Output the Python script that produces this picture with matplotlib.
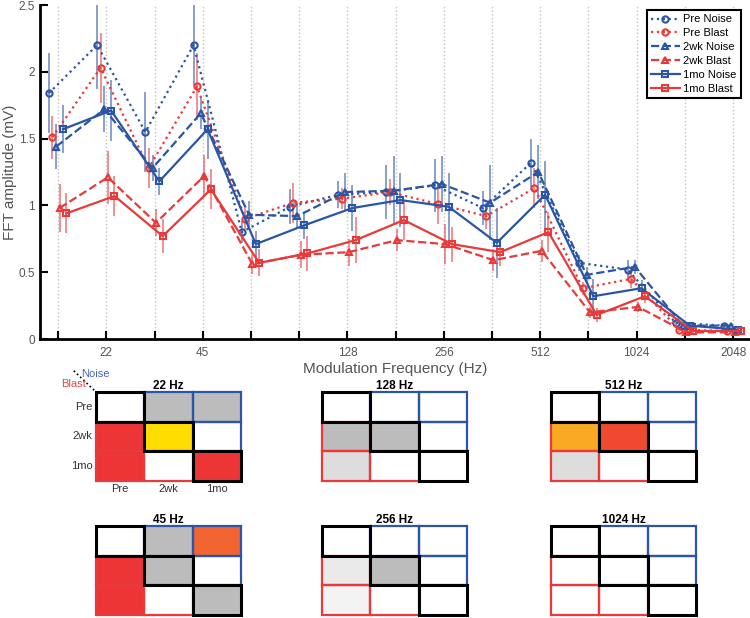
import numpy as np
import matplotlib
matplotlib.use('Agg')
import matplotlib.pyplot as plt
from matplotlib.patches import Rectangle
from matplotlib.lines import Line2D

plt.rcParams['font.family'] = ['Liberation Sans', 'DejaVu Sans']

# modulation frequencies (half-octave steps), only some are labelled
freqs = [16, 22, 32, 45, 64, 90, 128, 181, 256, 362, 512, 724, 1024, 1448, 2048]
freq_labels = ['', '22', '', '45', '', '', '128', '', '256', '', '512', '', '1024', '', '2048']

# FFT amplitude (mV), mean and error
pre_noise = [1.84, 2.20, 1.55, 2.20, 0.80, 0.99, 1.08, 1.10, 1.15, 0.98, 1.32, 0.57, 0.52, 0.12, 0.10]
pre_blast = [1.51, 2.03, 1.28, 1.89, 0.90, 1.02, 1.05, 1.10, 1.01, 0.92, 1.13, 0.38, 0.45, 0.07, 0.06]
wk2_noise = [1.44, 1.72, 1.28, 1.69, 0.93, 0.92, 1.10, 1.11, 1.16, 1.02, 1.25, 0.48, 0.54, 0.10, 0.10]
wk2_blast = [0.98, 1.21, 0.87, 1.22, 0.56, 0.63, 0.65, 0.74, 0.71, 0.59, 0.66, 0.20, 0.24, 0.05, 0.05]
mo1_noise = [1.57, 1.71, 1.18, 1.57, 0.71, 0.85, 0.98, 1.04, 0.99, 0.72, 1.08, 0.32, 0.38, 0.10, 0.07]
mo1_blast = [0.94, 1.07, 0.77, 1.12, 0.57, 0.64, 0.74, 0.89, 0.71, 0.65, 0.80, 0.18, 0.32, 0.06, 0.06]

pre_noise_err = [0.30, 0.33, 0.30, 0.30, 0.08, 0.13, 0.10, 0.20, 0.20, 0.13, 0.18, 0.06, 0.07, 0.03, 0.02]
pre_blast_err = [0.16, 0.26, 0.15, 0.25, 0.08, 0.15, 0.08, 0.10, 0.15, 0.10, 0.15, 0.05, 0.07, 0.02, 0.02]
wk2_noise_err = [0.17, 0.17, 0.10, 0.12, 0.10, 0.10, 0.14, 0.26, 0.21, 0.28, 0.20, 0.06, 0.05, 0.02, 0.02]
wk2_blast_err = [0.18, 0.20, 0.10, 0.16, 0.07, 0.10, 0.10, 0.08, 0.15, 0.08, 0.08, 0.04, 0.04, 0.02, 0.02]
mo1_noise_err = [0.18, 0.23, 0.10, 0.22, 0.10, 0.10, 0.17, 0.20, 0.25, 0.26, 0.25, 0.13, 0.06, 0.02, 0.02]
mo1_blast_err = [0.15, 0.15, 0.13, 0.15, 0.10, 0.13, 0.17, 0.15, 0.13, 0.10, 0.15, 0.05, 0.05, 0.02, 0.02]

series_names = ['Pre Noise', 'Pre Blast', '2wk Noise', '2wk Blast', '1mo Noise', '1mo Blast']

# pairwise comparison grids (rows/cols: Pre, 2wk, 1mo); upper = Noise, lower = Blast, diag = Noise vs Blast
time_labels = ['Pre', '2wk', '1mo']
grid_22 = [['w', 'gray', 'gray'], ['red', 'yellow', 'w'], ['red', 'w', 'red']]
grid_45 = [['w', 'gray', 'orange'], ['red', 'gray', 'w'], ['red', 'w', 'gray']]
grid_128 = [['w', 'w', 'w'], ['gray', 'gray', 'w'], ['lgray', 'w', 'w']]
grid_256 = [['w', 'w', 'w'], ['xlgray', 'gray', 'w'], ['xxlgray', 'w', 'w']]
grid_512 = [['w', 'w', 'w'], ['amber', 'redorange', 'w'], ['lgray', 'w', 'w']]
grid_1024 = [['w', 'w', 'w'], ['w', 'w', 'w'], ['w', 'w', 'w']]

cell_colors = {'w': 'white', 'gray': '#bcbcbc', 'red': '#ee3535', 'yellow': '#ffdd00',
               'orange': '#f26430', 'amber': '#f9aa22', 'redorange': '#ef4a30',
               'lgray': '#dddddd', 'xlgray': '#eaeaea', 'xxlgray': '#f3f3f3'}

blue = '#2b55a5'
red = '#e83a3a'
gray_txt = '#555555'

fig = plt.figure(figsize=(7.5, 6.18), dpi=100)
W, H = 750, 618

# ---- main line plot
ax = fig.add_axes([40 / W, 1 - 339 / H, 710 / W, 334 / H])
x = np.arange(len(freqs))

means = [pre_noise, pre_blast, wk2_noise, wk2_blast, mo1_noise, mo1_blast]
errs = [pre_noise_err, pre_blast_err, wk2_noise_err, wk2_blast_err, mo1_noise_err, mo1_blast_err]
colors = [blue, red, blue, red, blue, red]
styles = [':', ':', '--', '--', '-', '-']
markers = ['o', 'o', '^', '^', 's', 's']
msizes = [4.5, 4.5, 4.5, 4.5, 4, 4]
offsets = [-0.19, -0.12, -0.04, 0.03, 0.10, 0.17]

for name, m, e, c, ls, mk, ms, off in zip(series_names, means, errs, colors, styles, markers, msizes, offsets):
    xs = x + off
    ax.errorbar(xs, m, yerr=e, fmt='none', ecolor=c, elinewidth=1.3, alpha=0.6, zorder=2)
    ax.plot(xs, m, linestyle=ls, color=c, lw=1.6, marker=mk, ms=ms, mfc='none',
            mec=c, mew=1.5, label=name, zorder=3)

ax.set_xlim(-0.375, 14.35)
ax.set_ylim(0, 2.5)
ax.set_xticks(x)
ax.set_xticklabels(freq_labels)
ax.set_yticks([0, 0.5, 1, 1.5, 2, 2.5])
ax.set_yticklabels(['0', '0.5', '1', '1.5', '2', '2.5'])
ax.xaxis.grid(True, linestyle=':', color='#c4c4c4', lw=1)
ax.set_axisbelow(True)
for s in ['top', 'right']:
    ax.spines[s].set_visible(False)
for s in ['left', 'bottom']:
    ax.spines[s].set_linewidth(2)
ax.tick_params(direction='in', length=6, width=1.5, color='k', labelcolor=gray_txt, labelsize=8.5)
ax.tick_params(axis='x', pad=6)
ax.set_xlabel('Modulation Frequency (Hz)', color=gray_txt, fontsize=11)
ax.set_ylabel('FFT amplitude (mV)', color=gray_txt, fontsize=11)
ax.xaxis.set_label_coords(0.5, -(362 - 339) / 334)
ax.yaxis.set_label_coords(-(40 - 17) / 710, 0.5)

leg = ax.legend(loc='upper right', bbox_to_anchor=((741 - 40) / 710, (339 - 10) / 334),
                borderaxespad=0, fontsize=8, frameon=True, fancybox=False, framealpha=1,
                handlelength=2.6, handletextpad=0.3, labelspacing=0.35, borderpad=0.4)
leg.get_frame().set_edgecolor('k')
leg.get_frame().set_linewidth(1.5)

# ---- comparison grids
def draw_grid(pax, cells, title, title_y):
    pax.set_xlim(0, 3)
    pax.set_ylim(3, 0)
    pax.axis('off')
    for r in range(3):
        for c in range(3):
            pax.add_patch(Rectangle((c, r), 1, 1, facecolor=cell_colors[cells[r][c]],
                                    edgecolor='none', zorder=1, clip_on=False))
    for r in range(3):
        for c in range(3):
            if r == c:
                continue
            ec = blue if c > r else red
            pax.add_patch(Rectangle((c, r), 1, 1, facecolor='none', edgecolor=ec,
                                    lw=1.6, zorder=2, clip_on=False))
    for r in range(3):
        pax.add_patch(Rectangle((r, r), 1, 1, facecolor='none', edgecolor='k',
                                lw=2.2, zorder=3, clip_on=False))
    pax.text(1.5, title_y, title, ha='center', va='center', fontsize=8.5, fontweight='bold')

panel_left = [96, 322, 551]
panel_top = [392, 526]
pw, ph = 145, 88.5
panels = [(grid_22, '22 Hz', 0, 0), (grid_128, '128 Hz', 1, 0), (grid_512, '512 Hz', 2, 0),
          (grid_45, '45 Hz', 0, 1), (grid_256, '256 Hz', 1, 1), (grid_1024, '1024 Hz', 2, 1)]
grid_axes = []
for cells, title, col, row in panels:
    pax = fig.add_axes([panel_left[col] / W, 1 - (panel_top[row] + ph) / H, pw / W, ph / H])
    draw_grid(pax, cells, title, -0.2)
    grid_axes.append(pax)

# axis labels on the first grid
g0 = grid_axes[0]
for i, lab in enumerate(time_labels):
    g0.text(-0.07, i + 0.5, lab, ha='right', va='center', fontsize=8, color='#333333')
    g0.text(i + 0.5, 3.12, lab, ha='center', va='top', fontsize=8, color='#333333')
g0.add_line(Line2D([-0.46, 0.0], [-0.72, 0.0], color='k', lw=1.2, linestyle=':', clip_on=False))
g0.text(-0.02, -0.61, 'Noise', ha='center', va='center', fontsize=8, color='#4466bb')
g0.text(-0.47, -0.27, 'Blast', ha='center', va='center', fontsize=8, color='#ee4444')

fig.savefig('out.png', dpi=100)
